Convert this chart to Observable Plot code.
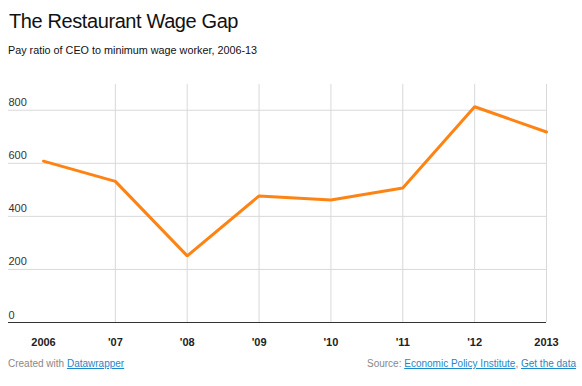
<!DOCTYPE html>
<html>
<head>
<meta charset="utf-8">
<script src="https://cdn.jsdelivr.net/npm/d3@7"></script>
<script src="https://cdn.jsdelivr.net/npm/@observablehq/plot@0.6"></script>
<style>
  html, body { margin: 0; padding: 0; background: #fff; width: 582px; height: 386px; overflow: hidden; position: relative; font-family: "Liberation Sans", Arial, Helvetica, sans-serif; }
  .abs { position: absolute; white-space: nowrap; }
  #title { left: 9px; top: 11px; font-size: 20px; line-height: 20px; color: #111; font-weight: 400; letter-spacing: -0.4px; }
  #subtitle { left: 8px; top: 45px; font-size: 10.8px; line-height: 11px; color: #111; }
  #chart { left: 0; top: 60px; }
  #footL { left: 8px; top: 358px; font-size: 10px; line-height: 11px; color: #888; }
  #footR { right: 6px; top: 358px; font-size: 10px; line-height: 11px; color: #888; text-align: right; }
  a { color: #1d87c9; text-decoration: underline; }
</style>
</head>
<body>
<div id="title" class="abs">The Restaurant Wage Gap</div>
<div id="subtitle" class="abs">Pay ratio of CEO to minimum wage worker, 2006-13</div>
<div id="chart" class="abs"></div>
<div id="footL" class="abs">Created with <a>Datawrapper</a></div>
<div id="footR" class="abs">Source: <a>Economic Policy Institute</a>, <a>Get the data</a></div>
<script>
const years = [2006, 2007, 2008, 2009, 2010, 2011, 2012, 2013];
const yearLabels = ["2006", "'07", "'08", "'09", "'10", "'11", "'12", "2013"];
const ratios = [608, 532, 251, 477, 462, 507, 813, 718];
const yTicks = [0, 200, 400, 600, 800];

const data = years.map((y, i) => ({year: y, label: yearLabels[i], ratio: ratios[i]}));

const chart = Plot.plot({
  width: 582,
  height: 300,
  marginTop: 24,
  marginBottom: 38,
  marginLeft: 8,
  marginRight: 36,
  style: {fontFamily: "'Liberation Sans', Arial, Helvetica, sans-serif", fontSize: "11px", background: "transparent"},
  x: {domain: [2006, 2013], range: [43, 546], axis: null},
  y: {domain: [0, 897], axis: null},
  marks: [
    Plot.ruleY(yTicks.filter(d => d > 0), {stroke: "#d9d9d9", strokeWidth: 1, strokeOpacity: 1}),
    Plot.ruleX(years.slice(1), {stroke: "#d9d9d9", strokeWidth: 1, strokeOpacity: 1}),
    Plot.ruleY([0], {stroke: "#333", strokeWidth: 1.2}),
    Plot.text(yTicks, {y: d => d, text: d => String(d), frameAnchor: "left", textAnchor: "start", lineAnchor: "bottom", dy: -4, fill: "#333", fontSize: 11}),
    Plot.text(data, {x: "year", text: "label", frameAnchor: "bottom", lineAnchor: "bottom", dy: 23, fontWeight: "bold", fill: "#222", fontSize: 11}),
    Plot.line(data, {x: "year", y: "ratio", stroke: "#fd8414", strokeWidth: 3, strokeLinejoin: "miter"})
  ]
});
document.getElementById("chart").appendChild(chart);
</script>
</body>
</html>
